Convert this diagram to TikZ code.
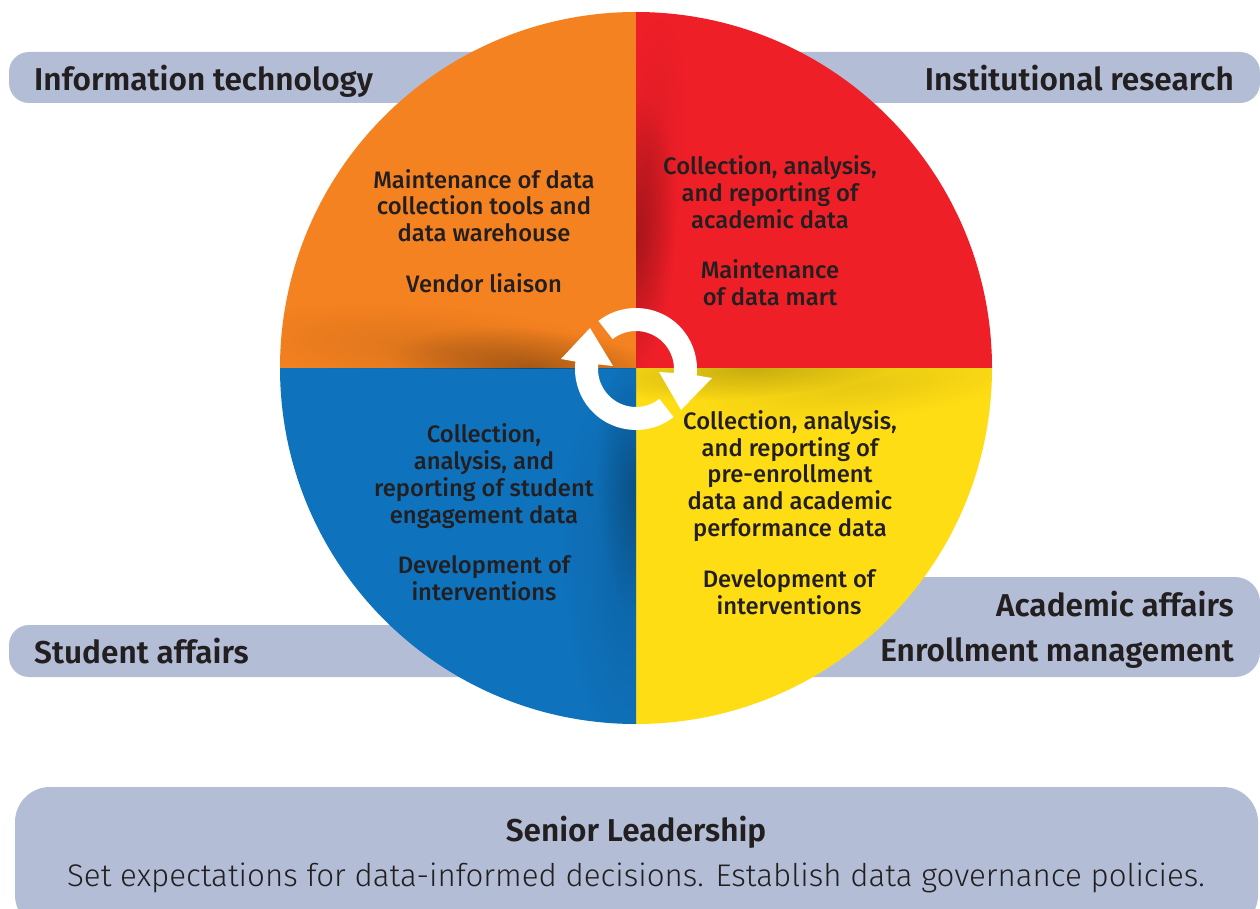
\documentclass[tikz,border=0pt]{standalone}
\usepackage{fontspec}
\setmainfont{Liberation Sans}
\newfontfamily\medfont{Fira Sans Medium}
\newfontfamily\boldf{Fira Sans SemiBold}
\newfontfamily\lightf{Fira Sans Light}
\usetikzlibrary{fadings,calc}
\definecolor{barc}{HTML}{B3BED6}
\definecolor{orangeq}{HTML}{F58220}
\definecolor{redq}{HTML}{EF1F28}
\definecolor{blueq}{HTML}{0F72BC}
\definecolor{yellowq}{HTML}{FFDD15}
\definecolor{ink}{HTML}{231F20}
\tikzfading[name=softblob, inner color=transparent!0, outer color=transparent!100]
\tikzset{
  inner/.style={font=\medfont\fontsize{23.8}{26.8}\selectfont,align=center,text=ink,inner sep=0pt},
  lab/.style={font=\boldf\fontsize{31.6}{38}\selectfont,text=ink,inner sep=0pt},
  barfill/.style={fill=barc,draw=none},
  ringpart/.style={fill=white,draw=none},
}
% centre x, centre y, rotation, half x, half y, opacity
\newcommand{\softshade}[6]{%
  \begin{scope}[transform canvas={shift={(#1,#2)},rotate=#3}]
    \fill[black,path fading=softblob,fill opacity=#6] (0,0) ellipse [x radius=#4*2,y radius=#5*2];
  \end{scope}}
\begin{document}
\begin{tikzpicture}[x=1pt,y=-1pt]
\useasboundingbox (0,0) rectangle (1260,909);
% bars
\fill[barfill,rounded corners=20] (9,52) rectangle (520,103);
\fill[barfill,rounded corners=20] (760,52) rectangle (1260,103);
\fill[barfill,rounded corners=20] (9,625) rectangle (520,677);
\fill[barfill,rounded corners=25] (760,577) rectangle (1260,677);
\fill[barfill,rounded corners=35] (15,787) rectangle (1258,930);
% quadrants
\coordinate (c) at (636,368);
\fill[orangeq] (c) -- ++(-356,0) arc [start angle=180,end angle=270,radius=356] -- cycle;
\fill[redq] (c) -- ++(0,-356) arc [start angle=270,end angle=360,radius=356] -- cycle;
\fill[yellowq] (c) -- ++(356,0) arc [start angle=0,end angle=90,radius=356] -- cycle;
\fill[blueq] (c) -- ++(0,356) arc [start angle=90,end angle=180,radius=356] -- cycle;
% soft shadows
\begin{scope}
  \clip (636,12) rectangle (992,368);
  \softshade{636}{240}{-3}{20}{70}{0.27}
  \softshade{648}{165}{-5}{18}{75}{0.08}
\end{scope}
\begin{scope}
  \clip (280,12) rectangle (636,368);
  \softshade{530}{368}{-5}{70}{20}{0.28}
  \softshade{440}{350}{-5}{105}{22}{0.10}
\end{scope}
\begin{scope}
  \clip (636,368) rectangle (992,724);
  \softshade{750}{368}{5}{80}{15}{0.22}
  \softshade{860}{385}{7}{90}{18}{0.09}
\end{scope}
\begin{scope}
  \clip (280,368) rectangle (636,724);
  \softshade{636}{490}{3}{20}{65}{0.27}
  \softshade{620}{590}{6}{28}{95}{0.09}
\end{scope}
% ring arrows
\coordinate (rc) at (636,369);
\fill[ringpart] ($(rc)+(232:61)$) arc [start angle=232,end angle=366,radius=61]
   -- (712,378) -- (681,410) -- (659,372)
   -- ($(rc)+(366:38)$) arc [start angle=366,end angle=232,radius=38] -- cycle;
\fill[ringpart] ($(rc)+(52:61)$) arc [start angle=52,end angle=187,radius=61]
   -- (561,359) -- (590,328) -- (613,366)
   -- ($(rc)+(187:38)$) arc [start angle=187,end angle=52,radius=38] -- cycle;
% bar labels
\node[lab,anchor=base west] (it) at (34,90.5) {Information technology};
\node[lab,anchor=base east] (ir) at (1234,90.5) {Institutional research};
\node[lab,anchor=base west] (sa) at (34,663) {Student affairs};
\node[lab,anchor=base east] (aa) at (1234,616) {Academic affairs};
\node[lab,anchor=base east] (em) at (1234,661) {Enrollment management};
\node[lab,anchor=base] (sl) at (636,841) {Senior Leadership};
\node[font=\lightf\fontsize{31.3}{38}\selectfont,text=ink,inner sep=0pt,anchor=base] (se) at (636,886) {Set expectations for data-informed decisions. Establish data governance policies.};
% quadrant text
\node[inner] (o1) at (484,205.5) {Maintenance of data\\collection tools and\\data warehouse};
\node[inner] (o2) at (484,283) {Vendor liaison};
\node[inner] (r1) at (770,192) {Collection, analysis,\\and reporting of\\academic data};
\node[inner] (r2) at (770,283) {Maintenance\\of data mart};
\node[inner] (b1) at (484,476) {Collection,\\analysis, and\\reporting of student\\engagement data};
\node[inner] (b2) at (484,578) {Development of\\interventions};
\node[inner] (y1) at (790,476) {Collection, analysis,\\and reporting of\\pre-enrollment\\data and academic\\performance data};
\node[inner] (y2) at (789,592) {Development of\\interventions};
\end{tikzpicture}
\end{document}
